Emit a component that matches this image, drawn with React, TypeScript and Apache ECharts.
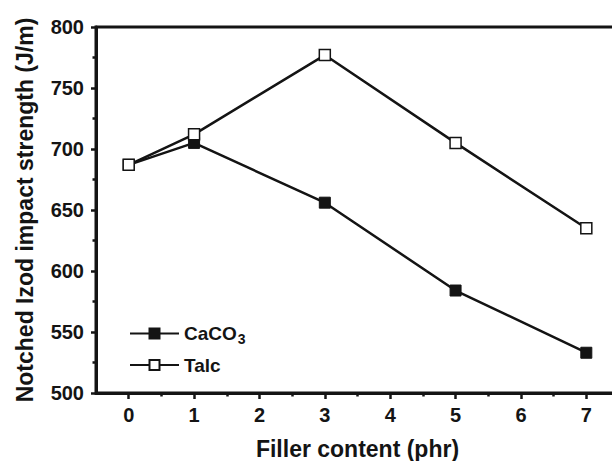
import React, { useEffect, useRef } from "react";
import * as echarts from "echarts";

const fillerContent = [0, 1, 3, 5, 7];
const caco3Values = [687, 705, 656, 584, 533];
const talcValues = [687, 712, 777, 705, 635];
const xTickLabels = [0, 1, 2, 3, 4, 5, 6, 7];
const xMinorTicks = [0.5, 1.5, 2.5, 3.5, 4.5, 5.5, 6.5];
const seriesNames = ["CaCO3", "Talc"];

const FONT = "'Liberation Sans', Arial, Helvetica, sans-serif";
const INK = "#141414";

export default function App() {
  const ref = useRef<HTMLDivElement>(null);

  useEffect(() => {
    document.body.style.margin = "0";
    if (!ref.current) return;
    const chart = echarts.init(ref.current, null, { renderer: "svg" });
    const pairs = (vals: number[]) => fillerContent.map((x, i) => [x, vals[i]]);

    chart.setOption({
      animation: false,
      backgroundColor: "#ffffff",
      grid: {
        left: 96,
        top: 27,
        width: 523,
        bottom: 68,
        outerBoundsMode: "none",
        containLabel: false,
        show: true,
        borderColor: INK,
        borderWidth: 3,
        backgroundColor: "transparent",
      },
      legend: {
        orient: "vertical",
        left: 124,
        top: 319,
        itemWidth: 49,
        itemHeight: 12.5,
        itemGap: 10,
        data: seriesNames,
        textStyle: {
          fontFamily: FONT,
          fontSize: 19,
          fontWeight: "bold",
          color: INK,
          rich: {
            a: { fontFamily: FONT, fontSize: 19, fontWeight: "bold", color: INK },
            sub: {
              fontFamily: FONT,
              fontSize: 14,
              fontWeight: "bold",
              color: INK,
              verticalAlign: "bottom",
              padding: [10, 0, 0, 1],
            },
          },
        },
        formatter: (name: string) =>
          name === "CaCO3" ? "{a|CaCO}{sub|3}" : "{a|" + name + "}",
      },
      xAxis: [
        {
          type: "value",
          min: -0.5,
          max: 7.5,
          position: "bottom",
          name: "Filler content (phr)",
          nameLocation: "middle",
          nameGap: 44,
          nameTextStyle: {
            fontFamily: FONT,
            fontSize: 23,
            fontWeight: "bold",
            color: INK,
          },
          axisLine: { show: true, onZero: false, lineStyle: { color: INK, width: 3 } },
          axisTick: {
            show: true,
            length: 6,
            lineStyle: { color: INK, width: 2.5 },
            customValues: xTickLabels,
          },
          axisLabel: {
            fontFamily: FONT,
            fontSize: 20,
            fontWeight: "bold",
            color: INK,
            margin: 12,
            customValues: xTickLabels,
          },
          splitLine: { show: false },
        },
        {
          type: "value",
          min: -0.5,
          max: 7.5,
          position: "bottom",
          axisLine: { show: false, onZero: false },
          axisTick: {
            show: true,
            length: 3.5,
            lineStyle: { color: INK, width: 2.5 },
            customValues: xMinorTicks,
          },
          axisLabel: { show: false },
          splitLine: { show: false },
        },
      ],
      yAxis: {
        type: "value",
        min: 500,
        max: 800,
        interval: 50,
        name: "Notched Izod impact strength (J/m)",
        nameLocation: "middle",
        nameGap: 60,
        nameTextStyle: {
          fontFamily: FONT,
          fontSize: 23,
          fontWeight: "bold",
          color: INK,
        },
        axisLine: { show: true, onZero: false, lineStyle: { color: INK, width: 3 } },
        axisTick: { show: true, length: 5, lineStyle: { color: INK, width: 2.5 } },
        minorTick: { show: true, splitNumber: 2, length: 3.5, lineStyle: { color: INK, width: 2.5 } },
        axisLabel: {
          fontFamily: FONT,
          fontSize: 20,
          fontWeight: "bold",
          color: INK,
          margin: 12,
        },
        splitLine: { show: false },
        minorSplitLine: { show: false },
      },
      series: [
        {
          name: "CaCO3",
          type: "line",
          data: pairs(caco3Values),
          symbol: "rect",
          symbolSize: 11,
          lineStyle: { color: INK, width: 2.5 },
          itemStyle: { color: INK, borderColor: INK, borderWidth: 1 },
          z: 2,
        },
        {
          name: "Talc",
          type: "line",
          data: pairs(talcValues),
          symbol: "rect",
          symbolSize: 11,
          lineStyle: { color: INK, width: 2.5 },
          itemStyle: { color: "#ffffff", borderColor: INK, borderWidth: 1.5 },
          z: 3,
        },
      ],
    });

    return () => chart.dispose();
  }, []);

  return <div ref={ref} style={{ width: 612, height: 461 }} />;
}
